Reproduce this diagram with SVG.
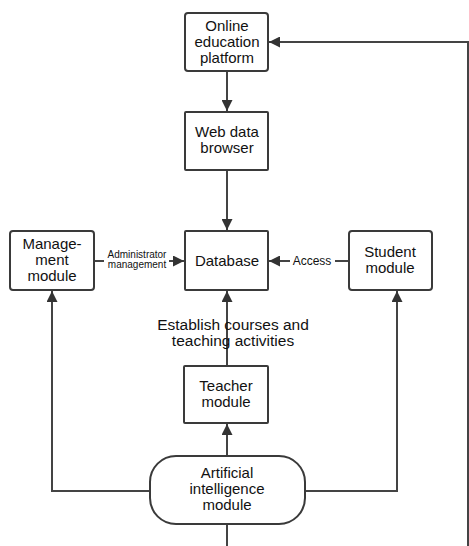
<svg xmlns="http://www.w3.org/2000/svg" width="469" height="546" viewBox="0 0 469 546">
<style>
.box{fill:#fff;stroke:#3a3a3a;stroke-width:2}
.t{font-family:"Liberation Sans",Arial,sans-serif;font-size:15px;fill:#111;text-anchor:middle}
.s{font-family:"Liberation Sans",Arial,sans-serif;font-size:10px;fill:#111;text-anchor:middle}
.l{fill:#111;text-anchor:middle;font-family:"Liberation Sans",Arial,sans-serif;font-size:15.5px}
.c{fill:none;stroke:#444;stroke-width:2}
</style>
<defs>
<marker id="ah" viewBox="0 0 10 10" refX="10" refY="5" markerWidth="5.5" markerHeight="5.5" orient="auto" markerUnits="strokeWidth">
<path d="M0,0 L10,5 L0,10 z" fill="#333"/>
</marker>
</defs>
<rect width="469" height="546" fill="#fff"/>
<g id="connectors">
<path class="c" d="M227,71 V111" marker-end="url(#ah)"/>
<path class="c" d="M227,170 V230" marker-end="url(#ah)"/>
<path class="c" d="M94,261 H104"/>
<path class="c" d="M169,261 H184" marker-end="url(#ah)"/>
<path class="c" d="M349,261 H335"/>
<path class="c" d="M290,261 H269" marker-end="url(#ah)"/>
<path class="c" d="M227,366 V291" marker-end="url(#ah)"/>
<path class="c" d="M227,456 V424" marker-end="url(#ah)"/>
<path class="c" d="M150,491 H52 V291" marker-end="url(#ah)"/>
<path class="c" d="M305,491 H397 V291" marker-end="url(#ah)"/>
<path class="c" d="M227,524 V546"/>
<path class="c" d="M468,546 V42 H269" marker-end="url(#ah)"/>
</g>
<g id="online">
<rect class="box" x="185" y="13" width="83" height="58" rx="3"/>
<text class="t" x="227" y="31">Online</text>
<text class="t" x="227" y="47">education</text>
<text class="t" x="227" y="63">platform</text>
</g>
<g id="web">
<rect class="box" x="185" y="112" width="83" height="58" rx="1"/>
<text class="t" x="227" y="137">Web data</text>
<text class="t" x="227" y="153">browser</text>
</g>
<g id="database">
<rect class="box" x="185" y="231" width="83" height="59" rx="1"/>
<text class="t" x="227" y="266">Database</text>
</g>
<g id="management">
<rect class="box" x="10" y="231" width="84" height="59" rx="3"/>
<text class="t" x="52" y="249">Manage-</text>
<text class="t" x="52" y="265">ment</text>
<text class="t" x="52" y="281">module</text>
</g>
<text class="s" x="137" y="258">Administrator</text>
<text class="s" x="137" y="268">management</text>
<g id="student">
<rect class="box" x="349" y="231" width="83" height="59" rx="3"/>
<text class="t" x="390" y="257">Student</text>
<text class="t" x="390" y="273">module</text>
</g>
<text class="s" x="312" y="265" style="font-size:12px">Access</text>
<text class="l" x="233" y="330">Establish courses and</text>
<text class="l" x="233" y="346">teaching activities</text>
<g id="teacher">
<rect class="box" x="184" y="366" width="84" height="57" rx="1"/>
<text class="t" x="226" y="391">Teacher</text>
<text class="t" x="226" y="407">module</text>
</g>
<g id="ai">
<rect class="box" x="150" y="456" width="155" height="68" rx="26"/>
<text class="t" x="227" y="478">Artificial</text>
<text class="t" x="227" y="494">intelligence</text>
<text class="t" x="227" y="510">module</text>
</g>
</svg>
